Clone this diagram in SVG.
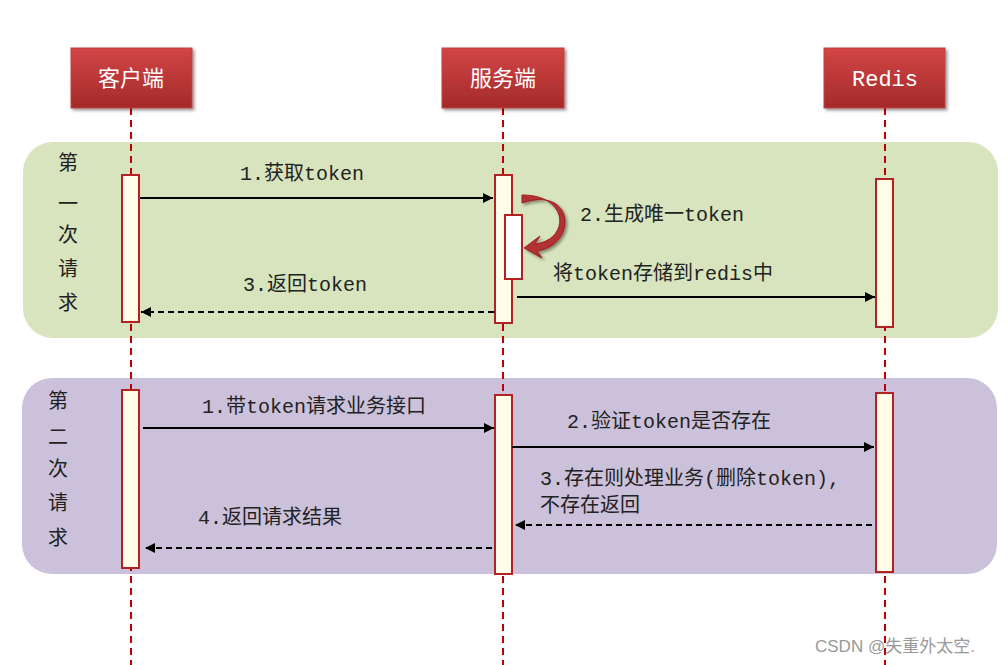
<svg xmlns="http://www.w3.org/2000/svg" width="1008" height="665" viewBox="0 0 1008 665">
<defs>
<linearGradient id="hg" x1="0" y1="0" x2="0" y2="1"><stop offset="0" stop-color="#d24545"/><stop offset="1" stop-color="#a42a2a"/></linearGradient>
<marker id="ar" viewBox="0 0 10 10" refX="10" refY="5" markerWidth="10" markerHeight="10" markerUnits="userSpaceOnUse" orient="auto"><path d="M0,0 L10,5 L0,10 z" fill="#000"/></marker>
<filter id="sh"><feDropShadow dx="2" dy="2" stdDeviation="1.5" flood-opacity="0.4"/></filter>
</defs>
<style>
text{font-family:"Liberation Mono","Noto Sans CJK SC",monospace;font-size:20px;fill:#222}
.hd{fill:url(#hg);stroke:#c04040;stroke-width:1;filter:url(#sh)}
.ht{fill:#fff;font-size:22px;text-anchor:middle}
.ll{stroke:#c00000;stroke-width:2;stroke-dasharray:7,5}
.act{fill:#fffde8;stroke:#b22222;stroke-width:2}
.m{stroke:#000;stroke-width:2;fill:none;marker-end:url(#ar)}
.d{stroke:#000;stroke-width:2;fill:none;stroke-dasharray:6,4;marker-end:url(#ar)}
</style>
<rect width="1008" height="665" fill="#fff"/>
<rect x="23" y="142" width="975" height="196" rx="30" fill="#d7e4bd"/>
<rect x="22" y="378" width="975" height="196" rx="30" fill="#ccc1da"/>
<g id="lifelines">
<line class="ll" x1="131" y1="108" x2="131" y2="665"/>
<line class="ll" x1="503" y1="108" x2="503" y2="665"/>
<line class="ll" x1="885" y1="108" x2="885" y2="665"/>
</g>
<g id="client"><rect class="hd" x="71" y="48" width="121" height="60"/><text class="ht" x="131" y="86">客户端</text></g>
<g id="server"><rect class="hd" x="442" y="48" width="122" height="60"/><text class="ht" x="503" y="86">服务端</text></g>
<g id="redis"><rect class="hd" x="824" y="48" width="121" height="60"/><text class="ht" x="885" y="86">Redis</text></g>
<g id="phase1label"><text x="58" y="170">第</text><text x="58" y="211">一</text><text x="58" y="242">次</text><text x="58" y="276">请</text><text x="58" y="310">求</text></g>
<g id="phase2label"><text x="48" y="408">第</text><text x="48" y="444">二</text><text x="48" y="476">次</text><text x="48" y="510">请</text><text x="48" y="545">求</text></g>
<g id="activations">
<rect class="act" x="122" y="175" width="17" height="147"/>
<rect class="act" x="495" y="175" width="17" height="148"/>
<rect x="505" y="215" width="17" height="64" fill="#fff" stroke="#b22222" stroke-width="2"/>
<rect class="act" x="876" y="179" width="17" height="148"/>
<rect class="act" x="122" y="390" width="17" height="178"/>
<rect class="act" x="495" y="395" width="17" height="179"/>
<rect class="act" x="876" y="393" width="17" height="179"/>
</g>
<g id="connectors">
<line class="m" x1="140" y1="198" x2="493" y2="198"/>
<path d="M522,195 C570,195 570,240 535,244 L540,236 L524,248 L542,258 L537,251 C578,245 575,185 522,203 z" fill="#b03030" stroke="#a02020" filter="url(#sh)"/>
<line class="d" x1="494" y1="312" x2="141" y2="312"/>
<line class="m" x1="517" y1="297" x2="875" y2="297"/>
<line class="m" x1="143" y1="428" x2="494" y2="428"/>
<line class="m" x1="512" y1="447" x2="874" y2="447"/>
<line class="d" x1="872" y1="525" x2="515" y2="525"/>
<line class="d" x1="492" y1="548" x2="145" y2="548"/>
</g>
<g id="labels">
<text x="240" y="180">1.获取token</text>
<text x="580" y="221">2.生成唯一token</text>
<text x="243" y="291">3.返回token</text>
<text x="553" y="280">将token存储到redis中</text>
<text x="202" y="413">1.带token请求业务接口</text>
<text x="567" y="428">2.验证token是否存在</text>
<text x="540" y="485">3.存在则处理业务(删除token),</text>
<text x="540" y="512">不存在返回</text>
<text x="198" y="524">4.返回请求结果</text>
<text x="815" y="652" style="font-family:'Liberation Sans','Noto Sans CJK SC',sans-serif;font-size:17px;fill:#999">CSDN @失重外太空.</text>
</g>
</svg>
